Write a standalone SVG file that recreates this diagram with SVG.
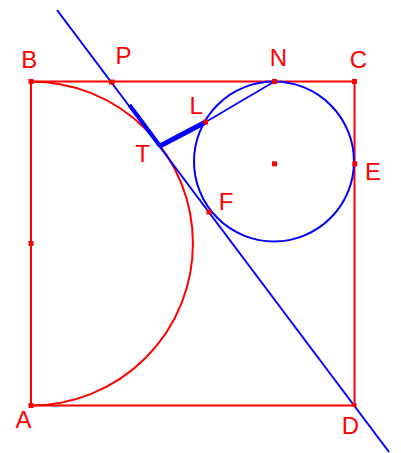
<svg xmlns="http://www.w3.org/2000/svg" width="401" height="453" viewBox="0 0 401 453">
<style>
.r{fill:none;stroke:#ff0000;stroke-width:2}
.b{fill:none;stroke:#0000ff;stroke-width:2}
.pt{fill:#ff0000}
.lbl{font-family:"Liberation Sans",Arial,sans-serif;font-size:24px;fill:#ff0000;text-anchor:middle}
</style>
<rect width="401" height="453" fill="#ffffff"/>
<g id="shapes">
<rect id="square" class="r" x="31" y="81.5" width="323.5" height="324"/>
<path id="semicircle" class="r" d="M31,81.5 A162,162 0 0 1 31,405.5"/>
<circle id="circle" class="b" cx="274" cy="161.5" r="80"/>
</g>
<g id="connectors">
<line class="b" x1="57" y1="10" x2="389" y2="452"/>
<line class="b" x1="205.7" y1="122" x2="274.5" y2="81.5" style="stroke-width:1.6"/>
<line class="b" x1="129.5" y1="105" x2="160" y2="146" style="stroke-width:4"/>
<line class="b" x1="160" y1="146" x2="205.7" y2="122" style="stroke-width:5"/>
</g>
<g id="points">
<rect class="pt" x="28.5" y="79" width="5" height="5"/>
<rect class="pt" x="109" y="79.5" width="5.5" height="5"/>
<rect class="pt" x="272" y="79" width="5" height="5"/>
<rect class="pt" x="352" y="79" width="5" height="5"/>
<rect class="pt" x="203.5" y="119.5" width="4.5" height="5"/>
<rect class="pt" x="352.3" y="161.3" width="5" height="5"/>
<rect class="pt" x="206.5" y="209.5" width="5" height="5"/>
<rect class="pt" x="272" y="161.3" width="5" height="5"/>
<rect class="pt" x="28.5" y="241" width="5" height="5"/>
<rect class="pt" x="28.5" y="403" width="5" height="5"/>
<rect class="pt" x="352.5" y="403" width="4" height="4"/>
</g>
<g id="labels">
<text class="lbl" x="29.2" y="68">B</text>
<text class="lbl" x="123.5" y="64">P</text>
<text class="lbl" x="278.3" y="66">N</text>
<text class="lbl" x="358.3" y="68">C</text>
<text class="lbl" x="196.3" y="114">L</text>
<text class="lbl" x="373" y="180">E</text>
<text class="lbl" x="142.5" y="162">T</text>
<text class="lbl" x="226" y="210">F</text>
<text class="lbl" x="23.5" y="428">A</text>
<text class="lbl" x="350.5" y="434">D</text>
</g>
</svg>
